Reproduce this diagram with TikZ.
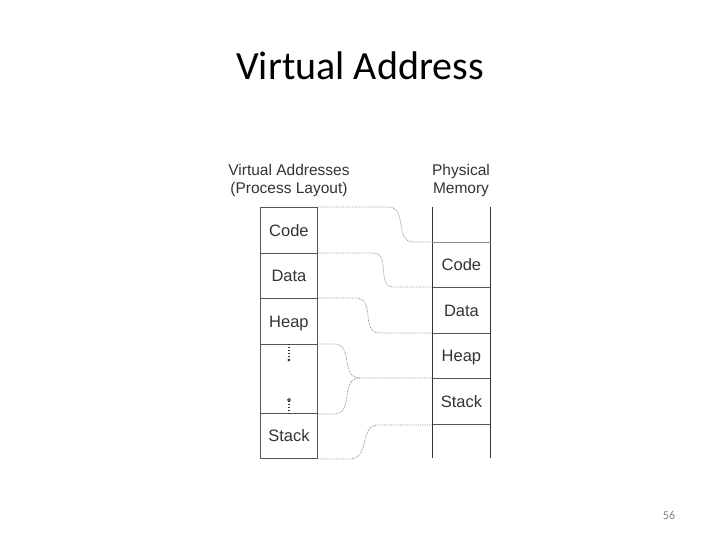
\documentclass[tikz,border=0pt]{standalone}
\usepackage{fontspec}
\setmainfont{Liberation Sans}
\newfontfamily\slidefont{Carlito}
\usetikzlibrary{calc}
\definecolor{boxgray}{HTML}{555555}
\definecolor{inkgray}{HTML}{333333}
\definecolor{linkgray}{HTML}{8C8C8C}
\tikzset{
  cell/.style={draw=boxgray, line width=0.9pt, minimum width=57pt, inner sep=0pt,
    anchor=north west, text=inkgray, font=\fontsize{16.5}{19}\selectfont,
    text height=11.5pt, text depth=0pt},
  pcell/.style={cell, minimum width=58pt},
  head/.style={anchor=base, text=inkgray, font=\fontsize{15.5}{18}\selectfont},
  link/.style={linkgray, densely dotted, line width=0.8pt},
  gapdots/.style={inkgray, dash pattern=on 1.2pt off 1.8pt, line width=1.2pt},
  rail/.style={draw=inkgray, line width=1pt}
}
\begin{document}
\begin{tikzpicture}[x=1pt,y=-1pt]
\useasboundingbox (0,0) rectangle (720,540);
\node[font=\slidefont\fontsize{40}{48}\selectfont, anchor=base] (title) at (360,80) {Virtual Address};
\node[head] (vhead) at (289,176) {Virtual Addresses};
\node[head] (vsub) at (289,194) {(Process Layout)};
\node[head] (phead) at (461,176) {Physical};
\node[head] (psub) at (461,194) {Memory};
% process layout
\node[cell, minimum height=46pt] (lcode) at (260,207) {Code};
\node[cell, minimum height=45pt] (ldata) at (260,253) {Data};
\node[cell, minimum height=46pt] (lheap) at (260,298) {Heap};
\node[cell, minimum height=69pt] (lgap) at (260,344) {};
\node[cell, minimum height=45pt] (lstack) at (260,413) {Stack};
\draw[gapdots] (lgap.north) -- ++(0,16) coordinate (gtop);
\fill[inkgray] (gtop) circle (1.5pt);
\draw[gapdots] (lgap.south) -- ++(0,-14) coordinate (gbot);
\draw[inkgray, line width=0.8pt] (gbot) circle (1.4pt);
% physical memory
\coordinate (pltop) at (432,207);
\coordinate (prtop) at (490,207);
\coordinate (plbot) at (432,458);
\coordinate (prbot) at (490,458);
\node[pcell, minimum height=45pt] (rcode) at (432,242) {Code};
\node[pcell, minimum height=46pt] (rdata) at (432,287) {Data};
\node[pcell, minimum height=45pt] (rheap) at (432,333) {Heap};
\node[pcell, minimum height=46pt] (rstack) at (432,378) {Stack};
\draw[rail] (pltop) -- (plbot);
\draw[rail] (prtop) -- (prbot);
\draw[linkgray, line width=1pt] (rcode.north west) -- (rcode.north east);
% mapping
\coordinate (merge) at ($(rstack.north west)+(-72,0)$);
\draw[link] (lcode.north east) -- ++(70,0) to[out=0,in=180,looseness=1.2] ($(rcode.north west)+(-18,0)$) -- (rcode.north west);
\draw[link] (ldata.north east) -- ++(55,0) to[out=0,in=180,looseness=1.2] ($(rdata.north west)+(-38,0)$) -- (rdata.north west);
\draw[link] (lheap.north east) -- ++(38,0) to[out=0,in=180,looseness=1.2] ($(rheap.north west)+(-52,0)$) -- (rheap.north west);
\draw[link] (lgap.north east) -- ++(16,0) to[out=0,in=180,looseness=1.2] (merge) -- (rstack.north west);
\draw[link] (lgap.south east) -- ++(16,0) to[out=0,in=180,looseness=1.2] (merge);
\draw[link] (lstack.south east) -- ++(32,0) to[out=0,in=180,looseness=1.2] ($(rstack.south west)+(-53,0)$) -- (rstack.south west);
\node[font=\slidefont\fontsize{12}{14}\selectfont, text=gray, anchor=base] (pageno) at (669,519) {56};
\end{tikzpicture}
\end{document}
